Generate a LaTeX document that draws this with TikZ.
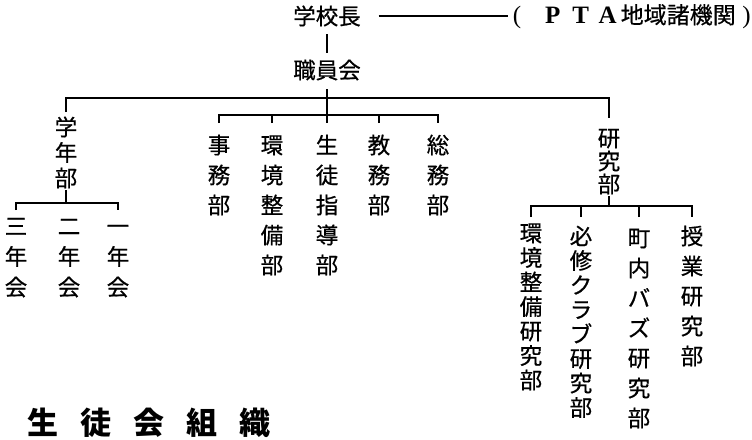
\documentclass[tikz,border=0pt]{standalone}
\usepackage{fontspec}
\newfontfamily\cjk[FakeBold=0.6]{Noto Sans CJK JP}
\newfontfamily\cjkt{Noto Sans CJK JP}
\newfontfamily\lat{Liberation Serif}
\newcommand\sq{\rule[-0.12em]{0pt}{1em}}
\newcommand\la[1]{{\lat\bfseries\fontsize{25}{25}\selectfont #1}}
\begin{document}
\begin{tikzpicture}[x=1pt,y=-1pt,line width=1.5pt,
  hz/.style={font=\cjk\fontsize{22.5}{26}\selectfont, inner sep=0pt},
  vt/.style={font=\cjk\fontsize{22.5}{#1}\selectfont, align=center, inner sep=0pt, anchor=north},
  ttl/.style={font=\cjkt\bfseries\fontsize{31}{31}\selectfont, inner sep=0pt}]
\useasboundingbox (0,0) rectangle (752,439);

% top
\node[hz] (boss) at (327,16) {\sq 学校長};
\node[hz] (staff) at (327,70) {\sq 職員会};
\node[inner sep=0pt, anchor=west, font=\cjk\fontsize{23}{26}\selectfont] (pta) at (508,16)
  {\sq\makebox[30pt][l]{\hspace{4pt}{\lat\fontsize{25}{25}\selectfont (}}\makebox[28pt]{\la{P}}\makebox[28pt]{\la{T}}\makebox[26pt]{\la{A}}地域諸機関\makebox[15pt][r]{\lat\fontsize{25}{25}\selectfont )}};

% left group
\node[vt=25.5] (gakunen) at (66,115) {\sq 学\\\sq 年\\\sq 部};
\node[vt=30.5] (san) at (16,214) {\sq 三\\\sq 年\\\sq 会};
\node[vt=30.5] (ni) at (69,214) {\sq 二\\\sq 年\\\sq 会};
\node[vt=30.5] (ichi) at (118,214) {\sq 一\\\sq 年\\\sq 会};

% middle group
\node[vt=30] (jimu) at (219,133) {\sq 事\\\sq 務\\\sq 部};
\node[vt=30] (kankyo) at (272,133) {\sq 環\\\sq 境\\\sq 整\\\sq 備\\\sq 部};
\node[vt=30] (seito) at (327,133) {\sq 生\\\sq 徒\\\sq 指\\\sq 導\\\sq 部};
\node[vt=30] (kyomu) at (379,133) {\sq 教\\\sq 務\\\sq 部};
\node[vt=30] (soumu) at (438,133) {\sq 総\\\sq 務\\\sq 部};

% right group
\node[vt=23] (kenkyu) at (609,126) {\sq 研\\\sq 究\\\sq 部};
\node[vt=24.5] (kk) at (531,221) {\sq 環\\\sq 境\\\sq 整\\\sq 備\\\sq 研\\\sq 究\\\sq 部};
\node[vt=24.5] (hisshu) at (581,224) {\sq 必\\\sq 修\\\sq ク\\\sq ラ\\\sq ブ\\\sq 研\\\sq 究\\\sq 部};
\node[vt=30] (chonai) at (639,226) {\sq 町\\\sq 内\\\sq バ\\\sq ズ\\\sq 研\\\sq 究\\\sq 部};
\node[vt=30] (jugyo) at (692,224) {\sq 授\\\sq 業\\\sq 研\\\sq 究\\\sq 部};

% title
\node[ttl] (title) at (149,423) {生\hspace{22pt}徒\hspace{22pt}会\hspace{22pt}組\hspace{22pt}織};

% bus levels
\coordinate (busA) at (0,98);
\coordinate (busL) at (0,203);
\coordinate (dropL) at (0,210);
\coordinate (busM) at (0,115);
\coordinate (dropM) at (0,123);
\coordinate (busR) at (0,206);
\coordinate (dropR) at (0,217);

% connectors
\draw ([xshift=17pt]boss.east) -- (pta.west);
\draw ([yshift=-6pt]boss.south) -- ([yshift=5pt]staff.north);
\draw ([yshift=-7pt]staff.south) -- (seito.north |- dropM);

\draw ([yshift=3pt]gakunen.north) -- (gakunen.north |- busA) -- (kenkyu.north |- busA) -- ([yshift=8pt]kenkyu.north);

\draw (gakunen.south) -- (gakunen.south |- busL);
\draw (san.north |- dropL) -- (san.north |- busL) -- (ichi.north |- busL) -- (ichi.north |- dropL);

\draw (jimu.north |- dropM) -- (jimu.north |- busM) -- (soumu.north |- busM) -- (soumu.north |- dropM);
\draw (kankyo.north |- dropM) -- (kankyo.north |- busM);
\draw (kyomu.north |- dropM) -- (kyomu.north |- busM);

\draw (kenkyu.south) -- (kenkyu.south |- busR);
\draw (kk.north |- dropR) -- (kk.north |- busR) -- (jugyo.north |- busR) -- (jugyo.north |- dropR);
\draw (hisshu.north |- dropR) -- (hisshu.north |- busR);
\draw (chonai.north |- dropR) -- (chonai.north |- busR);
\end{tikzpicture}
\end{document}
